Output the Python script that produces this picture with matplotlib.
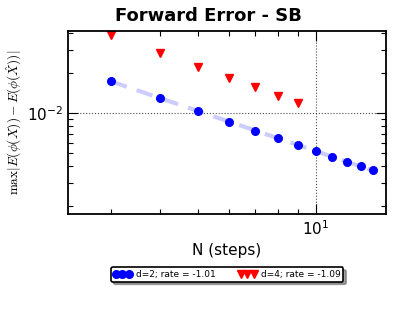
import numpy as np
import matplotlib
matplotlib.use("Agg")
import matplotlib.pyplot as plt
from matplotlib.ticker import NullFormatter

# values
N_d2 = [3, 4, 5, 6, 7, 8, 9, 10, 11, 12, 13, 14]
err_d2 = [1.74e-2, 1.30e-2, 1.035e-2, 8.6e-3, 7.36e-3, 6.45e-3, 5.74e-3,
          5.18e-3, 4.70e-3, 4.31e-3, 3.97e-3, 3.71e-3]
N_d4 = [3, 4, 5, 6, 7, 8, 9]
err_d4 = [3.89e-2, 2.84e-2, 2.23e-2, 1.84e-2, 1.56e-2, 1.35e-2, 1.20e-2]
label_d2 = "d=2; rate = -1.01"
label_d4 = "d=4; rate = -1.09"

plt.rcParams['mathtext.fontset'] = 'cm'
plt.rcParams['xtick.direction'] = 'in'
plt.rcParams['ytick.direction'] = 'in'

fig = plt.figure(figsize=(4.17, 3.34), dpi=100)
ax = fig.add_axes([0.163, 0.359, 0.763, 0.548])

# least squares fit line for d=2
p = np.polyfit(np.log(N_d2), np.log(err_d2), 1)
fit = np.exp(np.polyval(p, np.log(N_d2)))
ax.loglog(N_d2, fit, '--', color='blue', alpha=0.2, lw=3, dashes=(4, 2.5))

ax.loglog(N_d2, err_d2, 'o', color='blue', mec='blue', ms=5.5, label=label_d2)
ax.loglog(N_d4, err_d4, 'v', color='red', mec='red', ms=6, label=label_d4)

ax.set_xlim(2.33, 15.1)
ax.set_ylim(1.74e-3, 4.14e-2)
ax.xaxis.set_minor_formatter(NullFormatter())
ax.yaxis.set_minor_formatter(NullFormatter())

ax.grid(True, which='major', color='black', linestyle=':', lw=0.8, alpha=0.7)
ax.tick_params(which='both', top=True, right=True, labelsize=11)
ax.tick_params(which='major', length=7, width=0.8)
ax.tick_params(which='minor', length=3.5, width=0.8)
for s in ax.spines.values():
    s.set_linewidth(1.3)

fig.suptitle("Forward Error - SB", fontsize=13, fontweight='bold', y=0.98)
ax.set_xlabel("N (steps)", fontsize=11)
ax.set_ylabel(r"$\max|E(\phi(X))-E(\phi(\hat{X}))|$", fontsize=9.5, labelpad=2)

leg = ax.legend(loc='upper center', bbox_to_anchor=(0.5, -0.265), ncol=2,
                numpoints=3, fontsize=6.5, shadow=True, fancybox=True,
                frameon=True, borderpad=0.3, handletextpad=0.5,
                columnspacing=2.5, handlelength=2, markerscale=1.0)
leg.get_frame().set_edgecolor('black')
leg.get_frame().set_linewidth(1.2)

fig.savefig("out.png", dpi=100)
